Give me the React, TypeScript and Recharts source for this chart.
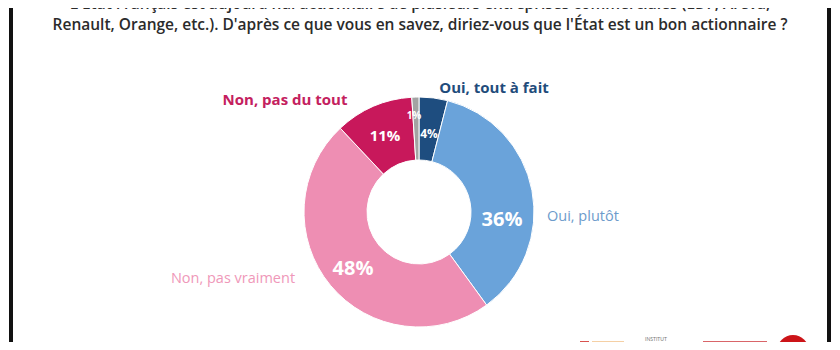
import { PieChart, Pie, Cell } from 'recharts';

// réponses (sens horaire depuis midi)
const categories = ['Oui, tout à fait', 'Oui, plutôt', 'Non, pas vraiment', 'Non, pas du tout', 'NSP'];
const shares = [4, 36, 48, 11, 1];
const sliceColors = ['#1e4d7f', '#6aa3da', '#ee8eb3', '#c8185b', '#a3a3a3'];

const titleLines = [
  "L'État Français est aujourd'hui actionnaire de plusieurs entreprises commerciales (EDF, Areva,",
  "Renault, Orange, etc.). D'après ce que vous en savez, diriez-vous que l'État est un bon actionnaire ?",
];

const data = categories.map((name, i) => ({ name, value: shares[i] }));

// placement des étiquettes, décalage par rapport au centre du donut
const layout: Record<string, { pct: [number, number]; pctSize: number; out?: [number, number]; outColor?: string; outWeight?: number }> = {
  'Oui, tout à fait': { pct: [10, -79], pctSize: 12, out: [75, -125], outColor: '#1f4c7b', outWeight: 700 },
  'Oui, plutôt': { pct: [83, 6], pctSize: 20, out: [128, 3], outColor: '#6d9bcb', outWeight: 400 },
  'Non, pas vraiment': { pct: [-66, 55], pctSize: 20, out: [-186, 65], outColor: '#ef98b9', outWeight: 400 },
  'Non, pas du tout': { pct: [-34, -77], pctSize: 15, out: [-134, -113], outColor: '#c4205e', outWeight: 700 },
  'NSP': { pct: [-5, -97], pctSize: 10 },
};

function renderLabel(props: any) {
  const { cx, cy, name, value } = props;
  const l = layout[name];
  if (!l) return null;
  return (
    <g>
      <text
        x={cx + l.pct[0]}
        y={cy + l.pct[1]}
        textAnchor="middle"
        dominantBaseline="central"
        fill="#fff"
        fontSize={l.pctSize}
        fontWeight={700}
        fontFamily="'Open Sans', sans-serif"
      >
        {value}%
      </text>
      {l.out && (
        <text
          x={cx + l.out[0]}
          y={cy + l.out[1]}
          textAnchor={l.out[0] > 100 ? 'start' : 'middle'}
          dominantBaseline="central"
          fill={l.outColor}
          fontSize={l.outWeight === 700 ? 15 : 14.5}
          fontWeight={l.outWeight}
          fontFamily="'Open Sans', sans-serif"
        >
          {name}
        </text>
      )}
    </g>
  );
}

export default function App() {
  return (
    <div style={styles.page}>
      <div style={{ ...styles.titleLine, top: -7 }}>{titleLines[0]}</div>
      <div style={{ ...styles.titleLine, top: 14 }}>{titleLines[1]}</div>
      <div style={{ position: 'absolute', left: 0, top: 0 }}>
        <PieChart width={840} height={350}>
          <Pie
            data={data}
            dataKey="value"
            nameKey="name"
            cx={414}
            cy={207}
            innerRadius={52}
            outerRadius={115}
            startAngle={90}
            endAngle={-270}
            stroke="#fff"
            strokeWidth={1}
            label={renderLabel}
            labelLine={false}
            isAnimationActive={false}
          >
            {data.map((d, i) => (
              <Cell key={d.name} fill={sliceColors[i]} />
            ))}
          </Pie>
        </PieChart>
      </div>
      {/* logos en bas à droite (coupés par le bord) */}
      <div style={{ position: 'absolute', left: 580, top: 341, width: 7, height: 7, border: '1px solid #d9534f' }} />
      <div style={{ position: 'absolute', left: 592, top: 341, width: 32, height: 9, background: '#f2c48f', opacity: 0.8 }} />
      <div style={{ position: 'absolute', left: 645, top: 336, fontSize: 5, lineHeight: '6px', color: '#777', fontFamily: 'Lato, sans-serif' }}>
        INSTITUT
      </div>
      <div style={{ position: 'absolute', left: 642, top: 342, width: 48, height: 8, background: '#bbb', opacity: 0.7 }} />
      <div style={{ position: 'absolute', left: 703, top: 341, width: 64, height: 9, background: '#d24a4f', opacity: 0.85 }} />
      <div style={{ position: 'absolute', left: 777, top: 335, width: 32, height: 32, borderRadius: 16, background: '#cc1418' }} />
      <div style={{ ...styles.frame, left: 9 }} />
      <div style={{ ...styles.frame, left: 827 }} />
    </div>
  );
}

const styles: Record<string, React.CSSProperties> = {
  page: {
    position: 'relative',
    width: 840,
    height: 350,
    margin: -8,
    overflow: 'hidden',
    background: '#fff',
  },
  titleLine: {
    position: 'absolute',
    left: 0,
    width: 840,
    textAlign: 'center',
    fontFamily: "'Open Sans', sans-serif",
    fontSize: 15.5,
    fontWeight: 600,
    color: '#2b2b2b',
    lineHeight: '20px',
    whiteSpace: 'nowrap',
  },
  frame: {
    position: 'absolute',
    top: 0,
    width: 4,
    height: 350,
    background: '#111',
  },
};
